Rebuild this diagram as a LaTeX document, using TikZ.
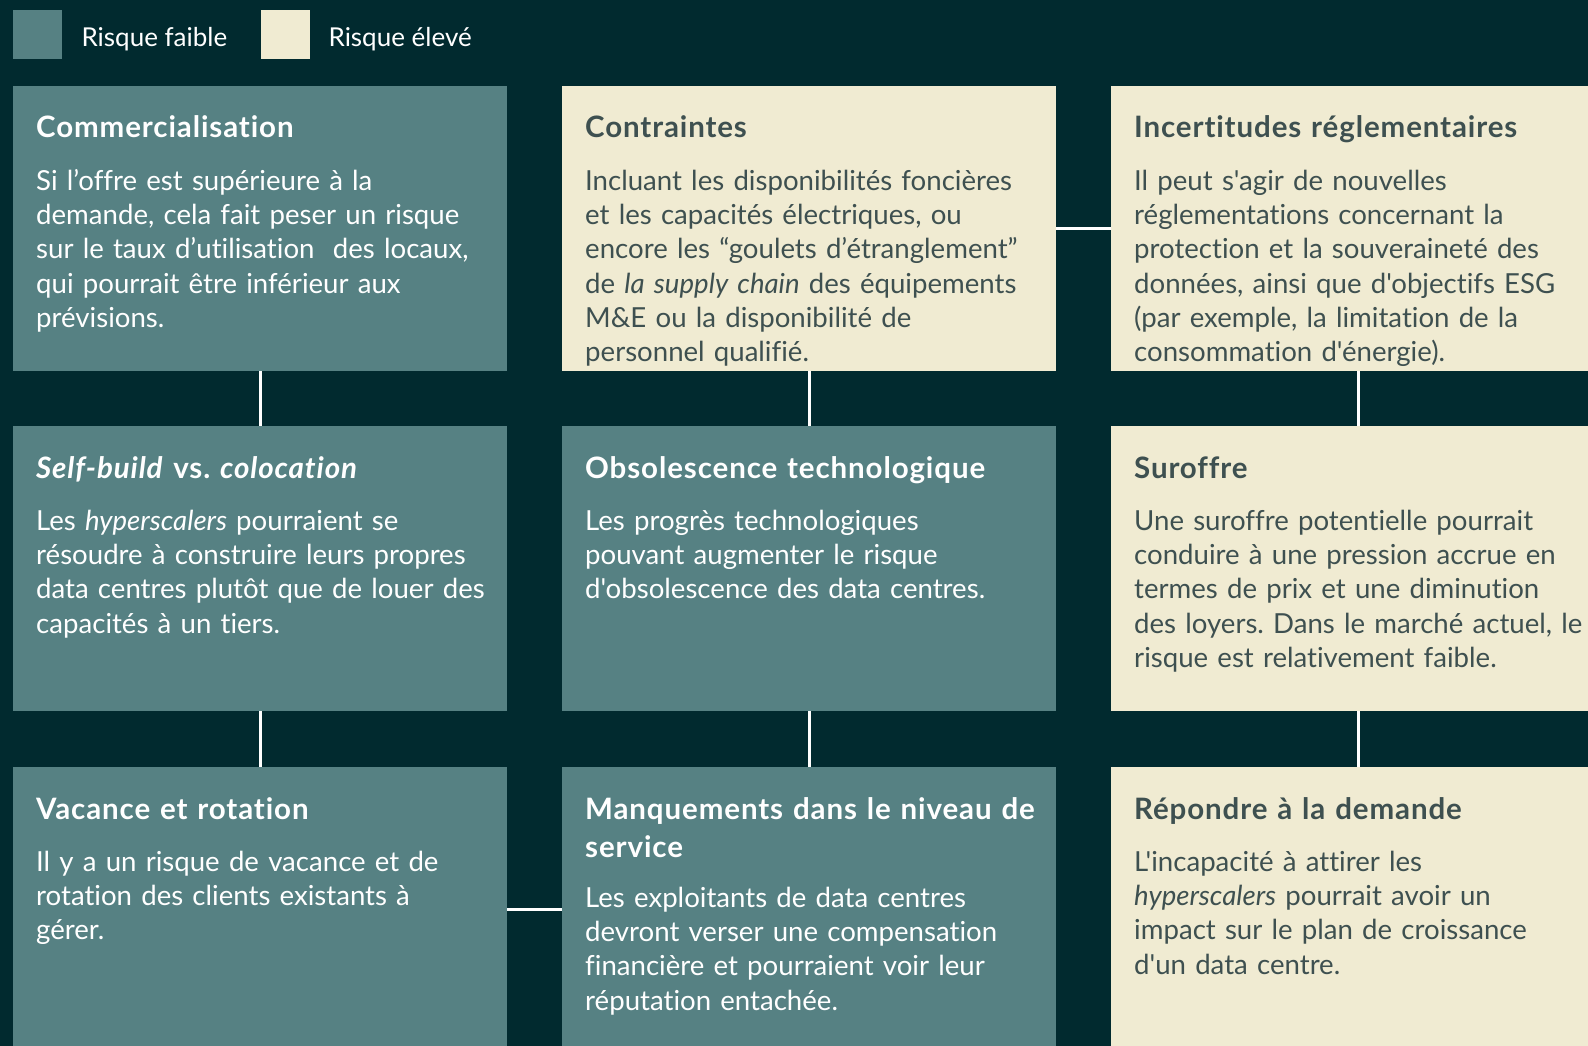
\documentclass[tikz,border=0pt]{standalone}
\usepackage{fontspec}
\setmainfont{Lato}[Ligatures={TeXOff,NoCommon},
  BoldFeatures={LetterSpace=3},BoldItalicFeatures={LetterSpace=3}]
\usetikzlibrary{positioning,calc}
\definecolor{bgdark}{HTML}{012A2F}
\definecolor{lowrisk}{HTML}{568183}
\definecolor{highrisk}{HTML}{F0EBD2}
\definecolor{darkink}{HTML}{3E5050}
\frenchspacing
\tikzset{
  riskbox/.style={anchor=north west,inner sep=0pt,minimum width=494pt,minimum height=285pt},
  lowbox/.style={riskbox,fill=lowrisk},
  highbox/.style={riskbox,fill=highrisk},
  boxhead/.style={anchor=base west,inner sep=0pt,text width=600pt,align=left,
    font=\fontsize{29.5}{38}\selectfont\bfseries},
  boxbody/.style={anchor=base west,inner sep=0pt,text width=600pt,align=left,
    font=\fontsize{27.6}{34.4}\selectfont},
  keybox/.style={anchor=north west,inner sep=0pt,minimum size=49pt},
  keytext/.style={anchor=base west,inner sep=0pt,text=white,font=\fontsize{26}{30}\selectfont},
  link/.style={draw=white,line width=3pt}
}

\begin{document}
\begin{tikzpicture}[x=1pt,y=-1pt]
  \useasboundingbox (0,0) rectangle (1588,1046);
  \clip (0,0) rectangle (1588,1046);
  \fill[bgdark] (0,0) rectangle (1588,1046);

  % legend
  \node[keybox,fill=lowrisk] (keylow) at (13,10) {};
  \node[keytext] at ([xshift=19pt,yshift=-12pt]keylow.east) {Risque faible};
  \node[keybox,fill=highrisk] (keyhigh) at (261,10) {};
  \node[keytext] at ([xshift=18pt,yshift=-12pt]keyhigh.east) {Risque élevé};

  % grid of risks
  \node[lowbox]  (comm)  at (13,86)   {};
  \node[highbox] (contr) at (562,86)  {};
  \node[highbox] (regl)  at (1111,86) {};
  \node[lowbox]  (self)  at (13,426)  {};
  \node[lowbox]  (obso)  at (562,426) {};
  \node[highbox] (surof) at (1111,426) {};
  \node[lowbox]  (vac)   at (13,767)  {};
  \node[lowbox]  (manq)  at (562,767) {};
  \node[highbox] (rep)   at (1111,767) {};

  % connectors
  \draw[link] (comm.south) -- (self.north);
  \draw[link] (self.south) -- (vac.north);
  \draw[link] (contr.south) -- (obso.north);
  \draw[link] (obso.south) -- (manq.north);
  \draw[link] (regl.south) -- (surof.north);
  \draw[link] (surof.south) -- (rep.north);
  \draw[link] (contr.east) -- (regl.west);
  \draw[link] (vac.east) -- (manq.west);

  % texts, low risk
  \begin{scope}[every node/.append style={text=white}]
    \node[boxhead] (commT) at ([xshift=23pt,yshift=-52pt]comm.north west) {Commercialisation};
    \node[boxbody] at ([yshift=-52pt]commT.base west)
      {Si l’offre est supérieure à la\\demande, cela fait peser un risque\\sur le taux d’utilisation\ \ des locaux,\\qui pourrait être inférieur aux\\prévisions.};
    \node[boxhead] (selfT) at ([xshift=23pt,yshift=-52pt]self.north west) {\textit{Self-build} vs. \textit{colocation}};
    \node[boxbody] at ([yshift=-52pt]selfT.base west)
      {Les \textit{hyperscalers} pourraient se\\résoudre à construire leurs propres\\data centres plutôt que de louer des\\capacités à un tiers.};
    \node[boxhead] (obsoT) at ([xshift=23pt,yshift=-52pt]obso.north west) {Obsolescence technologique};
    \node[boxbody] at ([yshift=-52pt]obsoT.base west)
      {Les progrès technologiques\\pouvant augmenter le risque\\d'obsolescence des data centres.};
    \node[boxhead] (vacT) at ([xshift=23pt,yshift=-52pt]vac.north west) {Vacance et rotation};
    \node[boxbody] at ([yshift=-52pt]vacT.base west)
      {Il y a un risque de vacance et de\\rotation des clients existants à\\gérer.};
    \node[boxhead] (manqT) at ([xshift=23pt,yshift=-52pt]manq.north west) {Manquements dans le niveau de\\service};
    \node[boxbody] at ([yshift=-88pt]manqT.base west)
      {Les exploitants de data centres\\devront verser une compensation\\financière et pourraient voir leur\\réputation entachée.};
  \end{scope}

  % texts, high risk
  \begin{scope}[every node/.append style={text=darkink}]
    \node[boxhead] (contrT) at ([xshift=23pt,yshift=-52pt]contr.north west) {Contraintes};
    \node[boxbody] at ([yshift=-52pt]contrT.base west)
      {Incluant les disponibilités foncières\\et les capacités électriques, ou\\encore les “goulets d’étranglement”\\de \textit{la supply chain} des équipements\\M\&E ou la disponibilité de\\personnel qualifié.};
    \node[boxhead] (reglT) at ([xshift=23pt,yshift=-52pt]regl.north west) {Incertitudes réglementaires};
    \node[boxbody] at ([yshift=-52pt]reglT.base west)
      {Il peut s'agir de nouvelles\\réglementations concernant la\\protection et la souveraineté des\\données, ainsi que d'objectifs ESG\\(par exemple, la limitation de la\\consommation d'énergie).};
    \node[boxhead] (surofT) at ([xshift=23pt,yshift=-52pt]surof.north west) {Suroffre};
    \node[boxbody] at ([yshift=-52pt]surofT.base west)
      {Une suroffre potentielle pourrait\\conduire à une pression accrue en\\termes de prix et une diminution\\des loyers. Dans le marché actuel, le\\risque est relativement faible.};
    \node[boxhead] (repT) at ([xshift=23pt,yshift=-52pt]rep.north west) {Répondre à la demande};
    \node[boxbody] at ([yshift=-52pt]repT.base west)
      {L'incapacité à attirer les\\\textit{hyperscalers} pourrait avoir un\\impact sur le plan de croissance\\d'un data centre.};
  \end{scope}
\end{tikzpicture}
\end{document}
